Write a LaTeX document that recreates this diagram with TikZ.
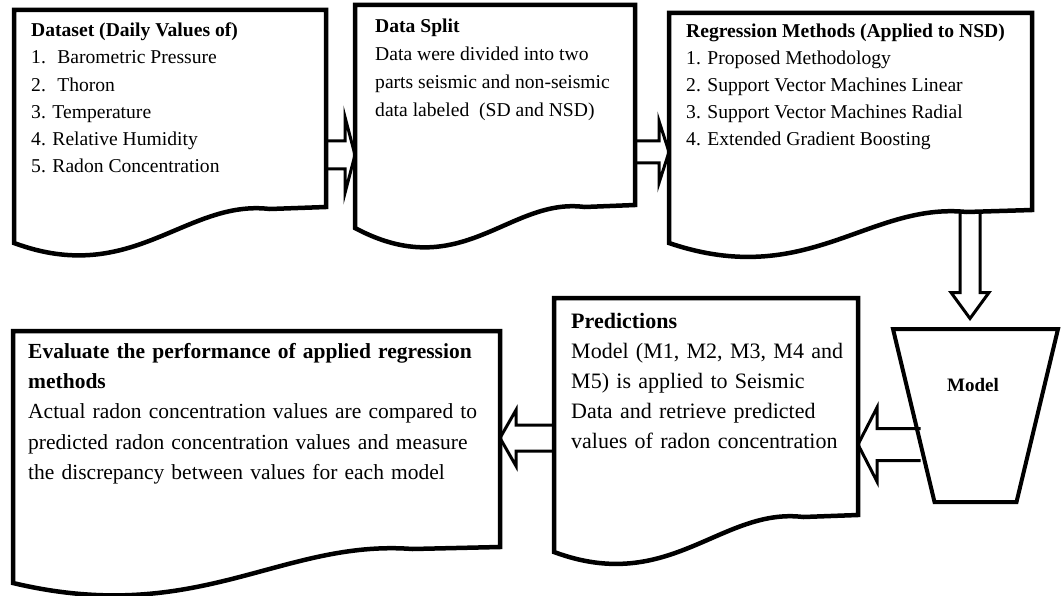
\documentclass[tikz,border=0pt]{standalone}
\usepackage{fontspec}
\setmainfont{Liberation Serif}
\usepackage{tikz}
\usetikzlibrary{calc,positioning,backgrounds}

% outline of a document box: straight top and sides, wavy bottom
\newcommand{\docoutline}[2]{%
  \draw[boxline] (#1.south east) -- (#1.north east) -- (#1.north west) -- ($(#1.south west)+(0,#2)$)
    .. controls ($(#1.south west)!0.38!(#1.south east)+(0,80)$) and ($(#1.south west)!0.55!(#1.south east)+(0,-8)$)
    .. ($(#1.south west)!0.82!(#1.south east)+(0,2)$) -- cycle;}

% hollow block arrow: from, to, shaft half width, head half width, head length
\newcommand{\hollowarrow}[5]{%
  \coordinate (ha-base) at ($(#2)!#5pt!(#1)$);
  \draw[arrowline] ($(#1)!#3pt!90:(#2)$) -- ($(ha-base)!#3pt!-90:(#1)$) -- ($(ha-base)!#4pt!-90:(#1)$) -- (#2)
    -- ($(ha-base)!#4pt!90:(#1)$) -- ($(ha-base)!#3pt!90:(#1)$) -- ($(#1)!#3pt!-90:(#2)$);}

\newcommand{\jline}[1]{\makebox[\linewidth][s]{#1}}

\begin{document}
\begin{tikzpicture}[x=1pt, y=-1pt]
    % Styles for boxes, texts and arrows
    \tikzstyle{docbox} = [rectangle, anchor=north west, inner sep=0pt, outer sep=0pt]
    \tikzstyle{boxline} = [line width=4.5pt, draw=black, line join=miter]
    \tikzstyle{arrowline} = [line width=3pt, draw=black, fill=white, line join=miter]
    \tikzstyle{boxtext} = [anchor=north west, inner sep=0pt, align=left]
    \tikzstyle{modelline} = [line width=4pt, draw=black, line join=miter]

    \useasboundingbox (0,0) rectangle (1064,596);

  % Boxes with explicit coordinates
    \node[docbox, minimum width=312pt, minimum height=197pt] (dataset) at (14,10) {};
    \node[docbox, minimum width=280pt, minimum height=200pt] (split) at (355,5) {};
    \node[docbox, minimum width=363pt, minimum height=197pt] (methods) at (669,13) {};
    \node[docbox, minimum width=487pt, minimum height=216pt] (evaluate) at (13,331) {};
    \node[docbox, minimum width=304pt, minimum height=217pt] (predict) at (554,298) {};

    \docoutline{dataset}{36}
    \docoutline{split}{23}
    \docoutline{methods}{33}
    \docoutline{evaluate}{36}
    \docoutline{predict}{37}

  % Model funnel
    \coordinate (model) at (975.5,415.5);
    \draw[modelline] ($(model)+(-82.5,-86.5)$) -- ($(model)+(82.5,-86.5)$) -- ($(model)+(41,86.5)$) -- ($(model)+(-41,86.5)$) -- cycle;
    \node[font=\bfseries\fontsize{19}{22}\selectfont] (modellabel) at (973,385) {Model};

  % Texts
    \node[boxtext, font=\fontsize{19.6}{27}\selectfont, below right=13pt and 17pt of dataset.north west] (datasettext)
      {\textbf{Dataset (Daily Values of)}\\ 1.~ Barometric Pressure\\ 2.~ Thoron\\ 3. Temperature\\ 4. Relative Humidity\\ 5. Radon Concentration};
    \node[boxtext, font=\fontsize{19.6}{28}\selectfont, below right=14pt and 20pt of split.north west] (splittext)
      {\textbf{Data Split}\\ Data were divided into two\\ parts seismic and non-seismic\\ data labeled~ (SD and NSD)};
    \node[boxtext, font=\fontsize{19.6}{27}\selectfont, below right=11pt and 17pt of methods.north west] (methodstext)
      {\textbf{Regression Methods (Applied to NSD)}\\ 1. Proposed Methodology\\ 2. Support Vector Machines Linear\\ 3. Support Vector Machines Radial\\ 4. Extended Gradient Boosting};
    \node[boxtext, text width=269pt, font=\fontsize{22}{30}\selectfont, below right=15pt and 17pt of predict.north west] (predicttext)
      {\textbf{Predictions}\\ \jline{Model (M1, M2, M3, M4 and}\\ \jline{M5) is applied to Seismic}\\ \jline{Data and retrieve predicted}\\ values of radon concentration};
    \node[boxtext, text width=455pt, font=\fontsize{21.5}{30.3}\selectfont, below right=12pt and 15pt of evaluate.north west] (evaluatetext)
      {\jline{\bfseries Evaluate the performance of applied regression}\\ \textbf{methods}\\ \jline{Actual radon concentration values are compared to}\\ \jline{predicted radon concentration values and measure}\\ the discrepancy between values for each model};

  % Arrow end points
    \coordinate (ds-out) at ($(dataset.south east)+(0,-52)$);
    \coordinate (sp-in) at (split.west |- ds-out);
    \coordinate (sp-out) at ($(split.south east)+(0,-53)$);
    \coordinate (me-in) at (methods.west |- sp-out);
    \coordinate (me-out) at ($(methods.south east)+(-62,0)$);
    \coordinate (mo-in) at ($(me-out |- model)+(0,-97)$);
    \coordinate (mo-out) at ($(model)+(-55,29)$);
    \coordinate (pr-in) at (predict.east |- mo-out);
    \coordinate (pr-out) at ($(predict.south west)+(0,-77)$);
    \coordinate (ev-in) at (evaluate.east |- pr-out);

  % Hollow arrows behind the boxes
    \begin{scope}[on background layer]
    \hollowarrow{ds-out}{sp-in}{14}{38}{10}
    \hollowarrow{sp-out}{me-in}{11}{31}{10}
    \hollowarrow{me-out}{mo-in}{10}{19}{26}
    \hollowarrow{mo-out}{pr-in}{16}{37}{19}
    \hollowarrow{pr-out}{ev-in}{13}{28}{16}
    \end{scope}

\end{tikzpicture}
\end{document}
